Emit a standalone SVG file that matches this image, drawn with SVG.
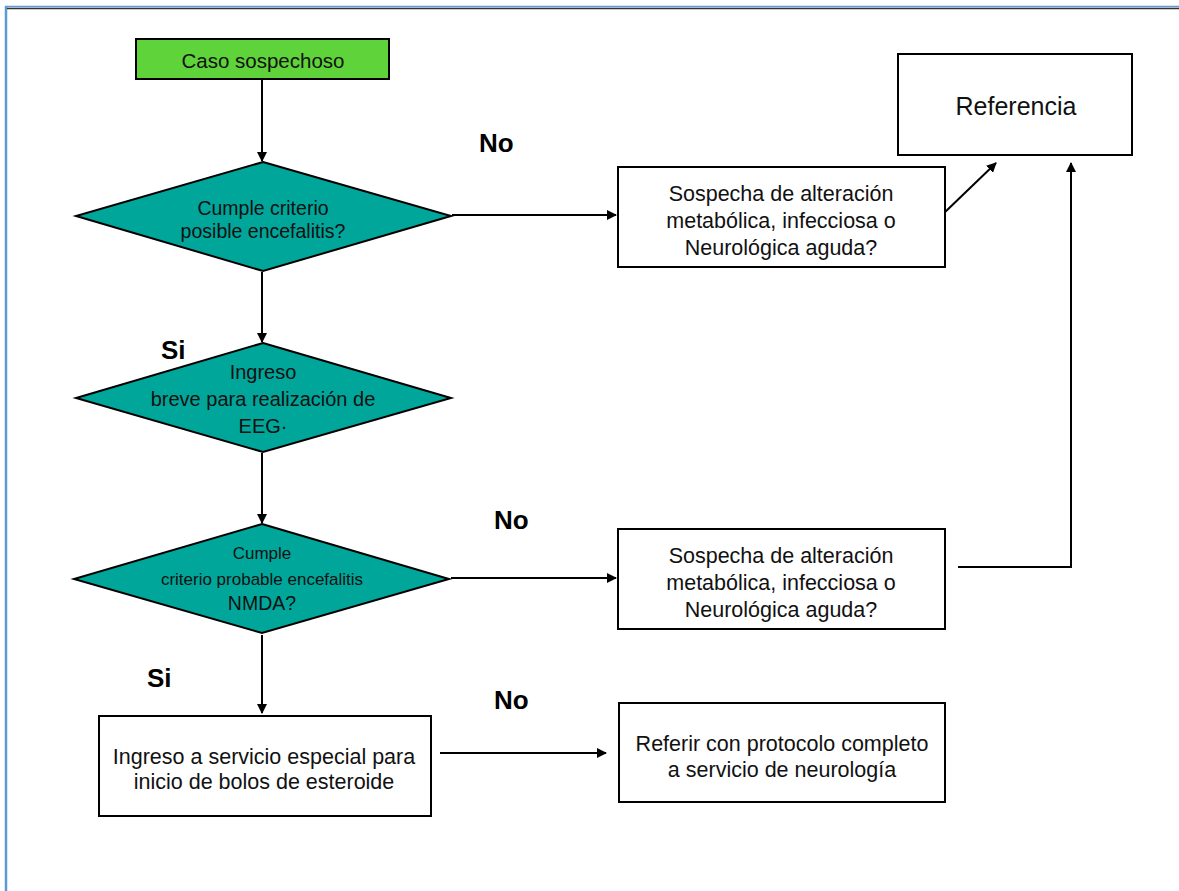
<svg xmlns="http://www.w3.org/2000/svg" width="1179" height="891" viewBox="0 0 1179 891">
<defs>
<style>
.box{fill:#fff;stroke:#000;stroke-width:2}
.dia{fill:#00a69a;stroke:#000;stroke-width:2}
.t{font-family:"Liberation Sans",Arial,sans-serif;fill:#111;text-anchor:middle}
.lbl{font-family:"Liberation Sans",Arial,sans-serif;font-weight:bold;font-size:26px;fill:#000}
.c{stroke:#000;stroke-width:2;fill:none}
</style>
<marker id="ah" markerWidth="10" markerHeight="10" refX="9" refY="5" orient="auto" markerUnits="userSpaceOnUse">
<path d="M0,0 L10,5 L0,10 Z" fill="#000"/>
</marker>
</defs>
<rect width="1179" height="891" fill="#fff"/>
<g id="frame">
<line x1="6" y1="6" x2="6" y2="891" stroke="#5b9bd5" stroke-width="2.5"/>
<line x1="5" y1="6.5" x2="1179" y2="6.5" stroke="#5b9bd5" stroke-width="1.5"/>
<line x1="7" y1="8.5" x2="1179" y2="8.5" stroke="#333" stroke-width="1.5"/>
</g>
<g id="connectors">
<line class="c" x1="262" y1="80" x2="262" y2="161" marker-end="url(#ah)"/>
<line class="c" x1="452" y1="215" x2="616" y2="215" marker-end="url(#ah)"/>
<line class="c" x1="262" y1="272" x2="262" y2="342" marker-end="url(#ah)"/>
<line class="c" x1="262" y1="453" x2="262" y2="523" marker-end="url(#ah)"/>
<line class="c" x1="451" y1="578" x2="616" y2="578" marker-end="url(#ah)"/>
<line class="c" x1="262" y1="635" x2="262" y2="713" marker-end="url(#ah)"/>
<line class="c" x1="440" y1="753" x2="606" y2="753" marker-end="url(#ah)"/>
<line class="c" x1="943" y1="214" x2="996" y2="163" marker-end="url(#ah)"/>
<polyline class="c" points="958,567 1072,567"/>
<line class="c" x1="1071" y1="566" x2="1071" y2="163" marker-end="url(#ah)"/>
</g>
<g id="caso">
<rect x="136" y="39" width="253" height="40" fill="#5fd33a" stroke="#000" stroke-width="2"/>
<text class="t" x="263" y="67.5" font-size="20.5">Caso sospechoso</text>
</g>
<g id="d1">
<polygon class="dia" points="263,162 451,216 263,271 76,216"/>
<text class="t" x="263" y="215" font-size="19.5">Cumple criterio</text>
<text class="t" x="263" y="238" font-size="19.5">posible encefalitis?</text>
</g>
<g id="d2">
<polygon class="dia" points="263,343 451,398 263,452 76,398"/>
<text class="t" x="263" y="379" font-size="20">Ingreso</text>
<text class="t" x="263" y="406" font-size="20">breve para realización de</text>
<text class="t" x="263" y="433" font-size="20">EEG·</text>
</g>
<g id="d3">
<polygon class="dia" points="262,524 449,579 262,633 74,579"/>
<text class="t" x="262" y="559" font-size="17">Cumple</text>
<text class="t" x="262" y="585" font-size="17">criterio probable encefalitis</text>
<text class="t" x="262" y="610" font-size="19.5">NMDA?</text>
</g>
<g id="sosp1">
<rect class="box" x="618" y="167" width="327" height="100"/>
<text class="t" x="781" y="201" font-size="21.5">Sospecha de alteración</text>
<text class="t" x="781" y="228" font-size="21.5">metabólica, infecciosa o</text>
<text class="t" x="781" y="255" font-size="21.5">Neurológica aguda?</text>
</g>
<g id="ref">
<rect class="box" x="898" y="54" width="234" height="101"/>
<text class="t" x="1016" y="115" font-size="25">Referencia</text>
</g>
<g id="sosp2">
<rect class="box" x="618" y="529" width="327" height="100"/>
<text class="t" x="781" y="563" font-size="21.5">Sospecha de alteración</text>
<text class="t" x="781" y="590" font-size="21.5">metabólica, infecciosa o</text>
<text class="t" x="781" y="617" font-size="21.5">Neurológica aguda?</text>
</g>
<g id="ingreso">
<rect class="box" x="99" y="716" width="332" height="100"/>
<text class="t" x="264" y="764" font-size="21.5">Ingreso a servicio especial para</text>
<text class="t" x="264" y="789" font-size="21.5">inicio de bolos de esteroide</text>
</g>
<g id="referir">
<rect class="box" x="619" y="703" width="326" height="99"/>
<text class="t" x="782" y="751" font-size="21.5">Referir con protocolo completo</text>
<text class="t" x="782" y="777" font-size="21.5">a servicio de neurología</text>
</g>
<g id="labels">
<text class="lbl" x="479" y="152">No</text>
<text class="lbl" x="494" y="529">No</text>
<text class="lbl" x="494" y="709">No</text>
<text class="lbl" x="161" y="359">Si</text>
<text class="lbl" x="147" y="687">Si</text>
</g>
</svg>
